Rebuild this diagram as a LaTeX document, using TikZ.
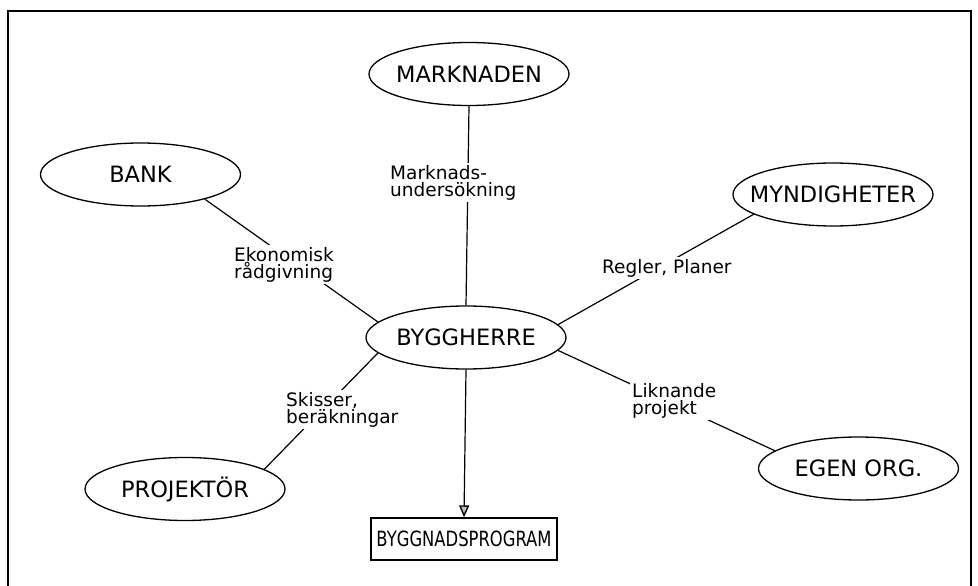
\documentclass[tikz,border=0pt]{standalone}
\usepackage{fontspec}
\setmainfont{DejaVu Sans}
\newfontfamily\boxfont[FakeStretch=0.78]{DejaVu Sans}
\usetikzlibrary{arrows.meta,shapes.geometric}

\tikzset{
  frame/.style={line width=2.4pt},
  party/.style={draw, ellipse, line width=1.3pt, minimum width=200pt,
    minimum height=63pt, inner sep=0pt},
  partyname/.style={font=\fontsize{22.5}{24}\selectfont},
  docbox/.style={draw, rectangle, line width=1.3pt, minimum width=186pt,
    minimum height=42pt, inner sep=0pt, font=\boxfont\fontsize{21}{22}\selectfont},
  link/.style={line width=1.2pt},
  flow/.style={line width=1.2pt,
    -{Triangle[length=12pt, width=10pt, line width=1.4pt, fill=gray!50]}},
  note/.style={fill=white, inner sep=2pt, align=left, anchor=north west,
    font=\fontsize{18.5}{17}\selectfont},
}

\begin{document}
\begin{tikzpicture}[x=1pt, y=-1pt]
  \useasboundingbox (0,0) rectangle (978,586);

  % sheet border, open at the foot
  \draw[frame] (8,586) -- (8,11) -- (971,11) -- (971,586);

  % parties
  \node[party, label={[partyname]center:MARKNADEN}]   (mark) at (469,74)    {};
  \node[party, label={[partyname]center:BANK}]        (bank) at (140.5,174.5) {};
  \node[party, label={[partyname]center:MYNDIGHETER}] (mynd) at (833,194.5) {};
  \node[party, label={[partyname]center:BYGGHERRE}]   (bygg) at (466,337.5) {};
  \node[party, label={[partyname]center:EGEN ORG.}]   (egen) at (858.5,468.5) {};
  \node[party, label={[partyname]center:PROJEKTÖR}]   (proj) at (185,489)   {};

  % outcome
  \node[docbox] (prog) at (464,539) {BYGGNADSPROGRAM};

  % relations to the client
  \draw[link] (mark.south) -- (bygg.north);
  \draw[link] (bank.-21)   -- (bygg.170);
  \draw[link] (mynd.194)   -- (bygg.8);
  \draw[link] (bygg.-8)    -- (egen.168);
  \draw[link] (bygg.190)   -- (proj.14);
  \draw[flow] (bygg.south) -- (prog.north);

  % relation labels
  \node[note] (mlab) at (388,163) {Marknads-\\undersökning};
  \node[note] (elab) at (232,245) {Ekonomisk\\rådgivning};
  \node[note] (rlab) at (600,257) {Regler, Planer};
  \node[note] (llab) at (630,381) {Liknande\\projekt};
  \node[note] (slab) at (284,390) {Skisser,\\beräkningar};
\end{tikzpicture}
\end{document}
